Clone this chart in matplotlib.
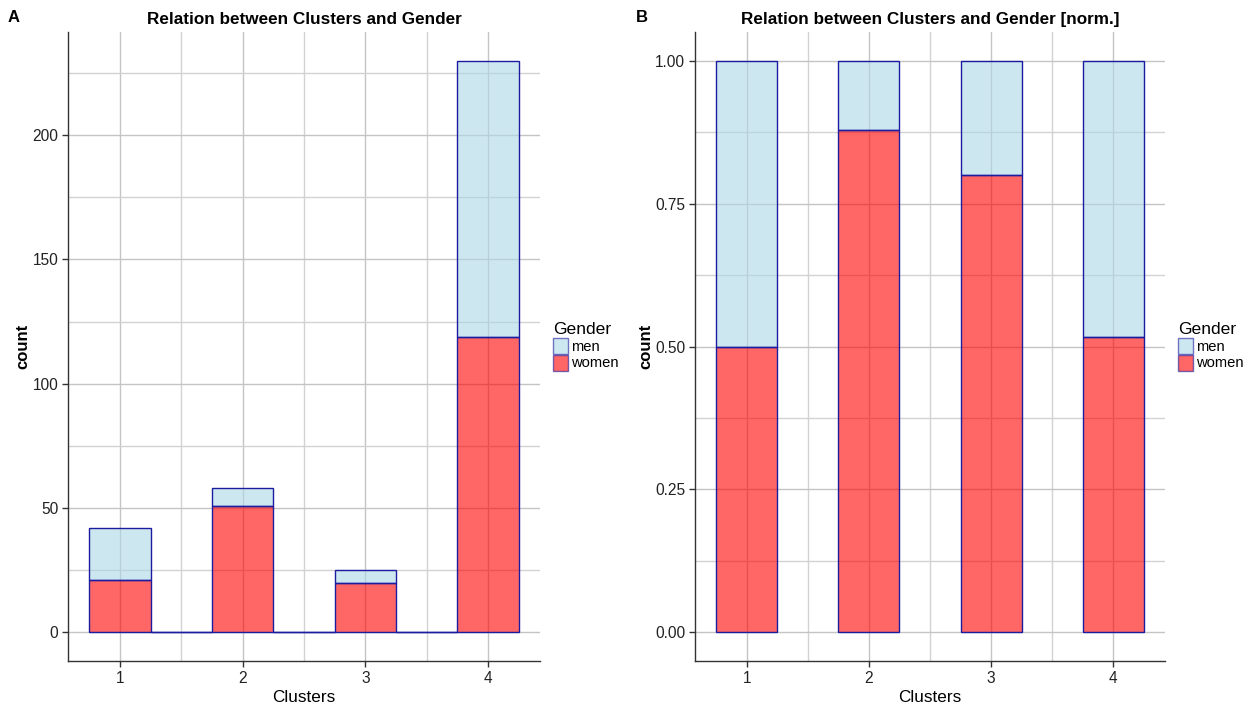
import numpy as np
import matplotlib
matplotlib.use("Agg")
import matplotlib.pyplot as plt
from matplotlib.patches import Patch
from matplotlib.ticker import MultipleLocator

plt.rcParams['font.family'] = ['Liberation Sans', 'DejaVu Sans']

# Counts per cluster and gender
clusters = [1, 2, 3, 4]
women = [21, 51, 20, 119]
men = [21, 7, 5, 111]
genders = ["men", "women"]

titles = ["Relation between Clusters and Gender",
          "Relation between Clusters and Gender [norm.]"]
panel_tags = ["A", "B"]

MEN_FILL = "#ADD8E6"
WOMEN_FILL = "#FF0000"
FILL_ALPHA = 0.6
EDGE = "#1c1ca0"
BAR_W = 0.5

W, H = 1259, 708
fig = plt.figure(figsize=(W / 100, H / 100), dpi=100)

def style_axes(ax):
    for s in ["top", "right"]:
        ax.spines[s].set_visible(False)
    for s in ["left", "bottom"]:
        ax.spines[s].set_color("#333333")
        ax.spines[s].set_linewidth(1.0)
    ax.tick_params(axis="both", which="major", length=4, width=1,
                   color="#333333", labelcolor="#222222", labelsize=11.2, pad=3)
    ax.tick_params(axis="both", which="minor", length=0)
    ax.grid(True, which="major", color="#c4c4c4", linewidth=1.0)
    ax.grid(True, which="minor", color="#d2d2d2", linewidth=1.0)
    ax.set_axisbelow(True)
    ax.set_xlabel("Clusters", fontsize=12.3, labelpad=3)
    ax.set_ylabel("count", fontsize=12, fontweight="bold", labelpad=1.5)

# ---- Panel A: histogram of counts, bins of width 0.5 centred on clusters
axA = fig.add_axes([68 / W, 1 - 661 / H, (540 - 68) / W, (661 - 32) / H])
centers = np.arange(clusters[0], clusters[-1] + 0.01, BAR_W)
w_bins = np.zeros(len(centers))
m_bins = np.zeros(len(centers))
for c, wv, mv in zip(clusters, women, men):
    idx = int(round((c - clusters[0]) / BAR_W))
    w_bins[idx] = wv
    m_bins[idx] = mv
axA.bar(centers, w_bins, width=BAR_W, color=WOMEN_FILL, alpha=FILL_ALPHA,
        edgecolor="none", zorder=2)
axA.bar(centers, m_bins, width=BAR_W, bottom=w_bins, color=MEN_FILL,
        alpha=FILL_ALPHA, edgecolor="none", zorder=2)
axA.bar(centers, w_bins, width=BAR_W, color="none", edgecolor=EDGE,
        linewidth=1.0, zorder=3)
axA.bar(centers, m_bins, width=BAR_W, bottom=w_bins, color="none",
        edgecolor=EDGE, linewidth=1.0, zorder=3)
totals = np.array(women) + np.array(men)
lo, hi = clusters[0] - BAR_W / 2, clusters[-1] + BAR_W / 2
pad = (hi - lo) * 0.05
axA.set_xlim(lo - pad, hi + pad)
ymax = totals.max()
axA.set_ylim(-ymax * 0.05, ymax * 1.05)
axA.set_xticks(clusters)
axA.xaxis.set_minor_locator(MultipleLocator(0.5))
axA.yaxis.set_major_locator(MultipleLocator(50))
axA.yaxis.set_minor_locator(MultipleLocator(25))
style_axes(axA)

# ---- Panel B: proportions per cluster
axB = fig.add_axes([695 / W, 1 - 661 / H, (1165 - 695) / W, (661 - 32) / H])
w_frac = np.array(women) / totals
m_frac = np.array(men) / totals
axB.bar(clusters, w_frac, width=BAR_W, color=WOMEN_FILL, alpha=FILL_ALPHA,
        edgecolor="none", zorder=2)
axB.bar(clusters, m_frac, width=BAR_W, bottom=w_frac, color=MEN_FILL,
        alpha=FILL_ALPHA, edgecolor="none", zorder=2)
axB.bar(clusters, w_frac, width=BAR_W, color="none", edgecolor=EDGE,
        linewidth=1.0, zorder=3)
axB.bar(clusters, m_frac, width=BAR_W, bottom=w_frac, color="none",
        edgecolor=EDGE, linewidth=1.0, zorder=3)
axB.set_xlim(lo - pad, hi + pad)
axB.set_ylim(-0.05, 1.05)
axB.set_xticks(clusters)
axB.xaxis.set_minor_locator(MultipleLocator(0.5))
axB.set_yticks([0, 0.25, 0.5, 0.75, 1.0])
axB.set_yticklabels(["0.00", "0.25", "0.50", "0.75", "1.00"])
axB.yaxis.set_minor_locator(MultipleLocator(0.125))
style_axes(axB)

for ax, title, tag, xtag in zip([axA, axB], titles, panel_tags, [8, 636]):
    ax.set_title(title, fontsize=12.3, fontweight="bold", pad=6)
    fig.text(xtag / W, 1 - 18 / H, tag, fontsize=12, fontweight="bold",
             ha="left", va="center")

# Legends
handles = [Patch(facecolor=MEN_FILL, alpha=FILL_ALPHA, edgecolor=EDGE, linewidth=1.0),
           Patch(facecolor=WOMEN_FILL, alpha=FILL_ALPHA, edgecolor=EDGE, linewidth=1.0)]
for xl in [553, 1178]:
    leg = fig.legend(handles, genders, title="Gender", loc="upper left",
                     bbox_to_anchor=(xl / W, 1 - 322 / H), frameon=False,
                     fontsize=10.6, title_fontsize=12.6, handlelength=1.05,
                     handleheight=1.3, handletextpad=0.2, labelspacing=0.05,
                     borderpad=0.0, borderaxespad=0.0, alignment="left")

fig.savefig("out.png", dpi=100)
